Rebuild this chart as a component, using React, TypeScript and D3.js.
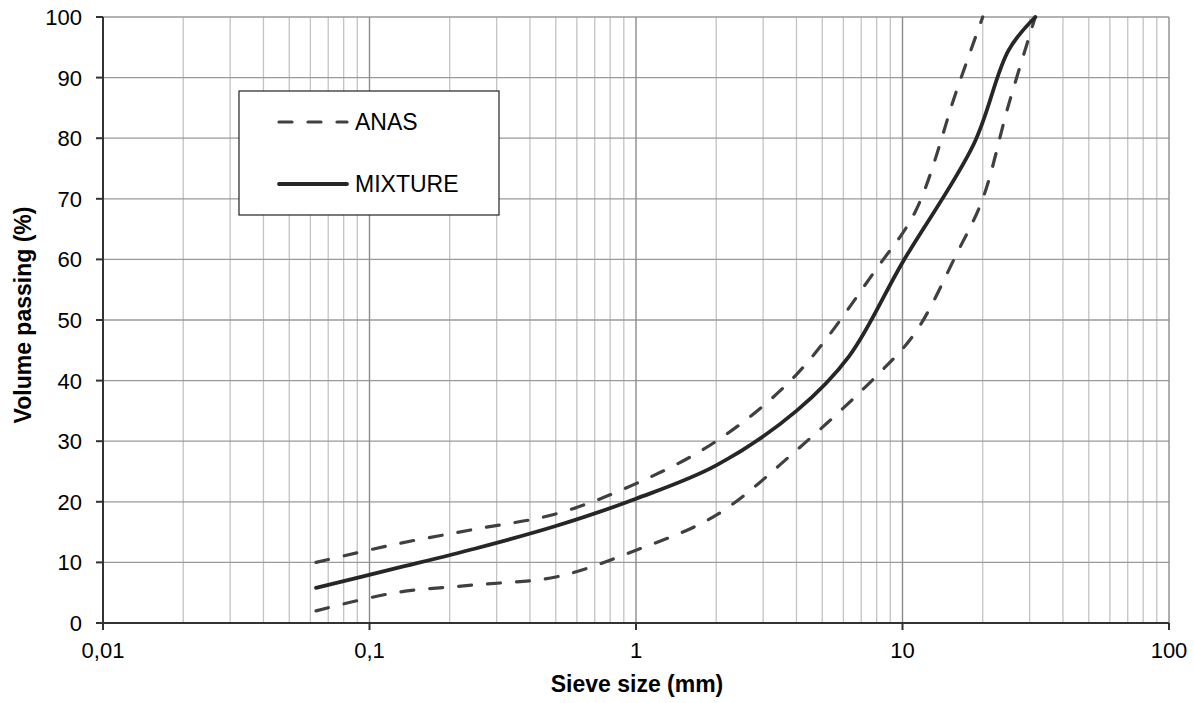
import React from "react";
import * as d3 from "d3";

// Sieve sizes (mm) and passing percentages for each grading curve
const anasUpperSieve = [0.063, 0.125, 0.25, 0.5, 1, 2, 4, 8, 11.2, 16, 20];
const anasUpperPass = [10, 13, 15.5, 18, 23, 30, 41, 58.5, 68, 88, 100];

const anasLowerSieve = [0.063, 0.125, 0.25, 0.5, 1, 2, 4, 8, 11.2, 16, 20, 25, 31.5];
const anasLowerPass = [2, 5, 6.3, 7.6, 12, 17.8, 28.5, 40.8, 48, 61, 70, 85.5, 100];

const mixtureSieve = [0.063, 0.125, 0.25, 0.5, 1, 2, 4, 6.3, 10, 18.5, 25, 31.5];
const mixturePass = [5.8, 9.0, 12.3, 16, 20.5, 26, 35, 44, 59.5, 79, 94.5, 100];

const xTickValues = [0.01, 0.1, 1, 10, 100];
const xTickLabels = ["0,01", "0,1", "1", "10", "100"];
const yTickValues = [0, 10, 20, 30, 40, 50, 60, 70, 80, 90, 100];

const legendItems = [
  { label: "ANAS", dashed: true },
  { label: "MIXTURE", dashed: false },
];

const W = 1194;
const H = 703;
const M = { left: 103, right: 1169, top: 17, bottom: 623 };
const FONT = "'Liberation Sans', Arial, Helvetica, sans-serif";

export default function App() {
  const x = d3.scaleLog().domain([0.01, 100]).range([M.left, M.right]);
  const y = d3.scaleLinear().domain([0, 100]).range([M.bottom, M.top]);

  const line = d3
    .line<[number, number]>()
    .x((d) => x(d[0]))
    .y((d) => y(d[1]))
    .curve(d3.curveCatmullRom.alpha(0.5));

  const zip = (a: number[], b: number[]) => a.map((v, i) => [v, b[i]] as [number, number]);

  // minor vertical grid: 2..9 within each decade
  const minor: number[] = [];
  for (let e = -2; e < 2; e++) {
    for (let k = 2; k <= 9; k++) minor.push(k * Math.pow(10, e));
  }

  const dash = "13 16";

  return (
    <svg width={W} height={H} style={{ display: "block", position: "absolute", left: 0, top: 0 }}>
      <rect width={W} height={H} fill="#fff" />

      {/* minor vertical grid */}
      {minor.map((v) => (
        <line key={"mv" + v} x1={x(v)} x2={x(v)} y1={M.top} y2={M.bottom} stroke="#c3c3c3" strokeWidth={1.3} />
      ))}
      {/* horizontal grid */}
      {yTickValues.map((v) => (
        <line key={"hg" + v} x1={M.left} x2={M.right} y1={y(v)} y2={y(v)} stroke="#9a9a9a" strokeWidth={1.3} />
      ))}
      {/* decade grid */}
      {xTickValues.map((v) => (
        <line key={"mj" + v} x1={x(v)} x2={x(v)} y1={M.top} y2={M.bottom} stroke="#8c8c8c" strokeWidth={1.4} />
      ))}

      {/* axes */}
      <line x1={M.left} x2={M.left} y1={M.top} y2={M.bottom} stroke="#333" strokeWidth={2} />
      <line x1={M.left} x2={M.right} y1={M.bottom} y2={M.bottom} stroke="#333" strokeWidth={2} />
      {yTickValues.map((v) => (
        <g key={"yt" + v}>
          <line x1={M.left - 7} x2={M.left} y1={y(v)} y2={y(v)} stroke="#333" strokeWidth={2} />
          <text x={82} y={y(v)} dy="0.36em" textAnchor="end" fontFamily={FONT} fontSize={22} fill="#000">
            {v}
          </text>
        </g>
      ))}
      {xTickValues.map((v, i) => (
        <g key={"xt" + v}>
          <line x1={x(v)} x2={x(v)} y1={M.bottom} y2={M.bottom + 7} stroke="#333" strokeWidth={2} />
          <text x={x(v)} y={658} textAnchor="middle" fontFamily={FONT} fontSize={22} fill="#000">
            {xTickLabels[i]}
          </text>
        </g>
      ))}

      {/* curves */}
      <path d={line(zip(anasUpperSieve, anasUpperPass)) || ""} fill="none" stroke="#404040" strokeWidth={3.2} strokeDasharray={dash} strokeLinecap="round" />
      <path d={line(zip(anasLowerSieve, anasLowerPass)) || ""} fill="none" stroke="#404040" strokeWidth={3.2} strokeDasharray={dash} strokeLinecap="round" />
      <path d={line(zip(mixtureSieve, mixturePass)) || ""} fill="none" stroke="#262626" strokeWidth={3.8} strokeLinecap="round" />

      {/* axis titles */}
      <text x={637} y={692} textAnchor="middle" fontFamily={FONT} fontWeight="bold" fontSize={23} fill="#000">
        Sieve size (mm)
      </text>
      <text transform="translate(31,315) rotate(-90)" textAnchor="middle" fontFamily={FONT} fontWeight="bold" fontSize={23} fill="#000">
        Volume passing (%)
      </text>

      {/* legend */}
      <rect x={239} y={91} width={260} height={124} fill="#fff" stroke="#222" strokeWidth={1.2} />
      {legendItems.map((it, i) => {
        const ly = 122 + i * 62;
        return (
          <g key={it.label}>
            <line
              x1={279}
              x2={347}
              y1={ly}
              y2={ly}
              stroke={it.dashed ? "#404040" : "#262626"}
              strokeWidth={it.dashed ? 3.2 : 3.8}
              strokeDasharray={it.dashed ? dash : undefined}
              strokeLinecap="round"
            />
            <text x={355} y={ly + 8} fontFamily={FONT} fontSize={23} fill="#000">
              {it.label}
            </text>
          </g>
        );
      })}
    </svg>
  );
}
